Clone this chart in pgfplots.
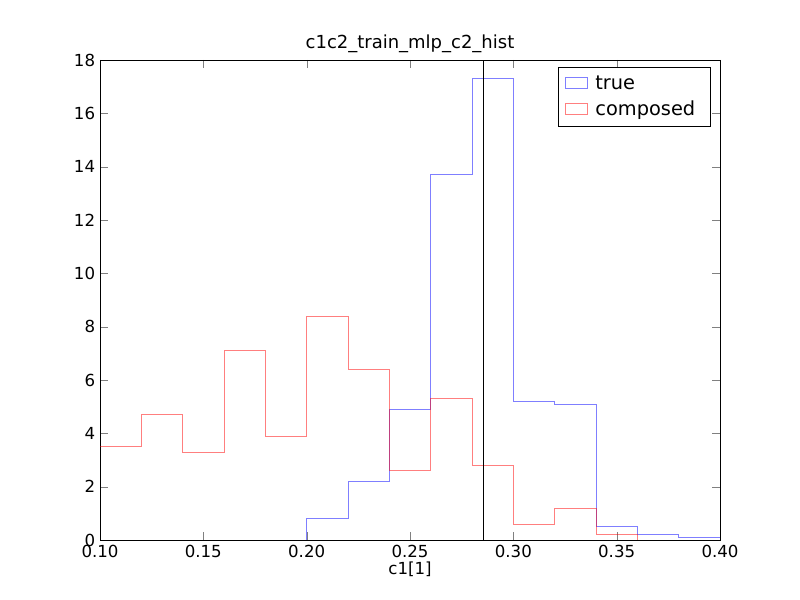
\documentclass[border=0pt]{standalone}
\usepackage{pgfplots}
\pgfplotsset{compat=1.18}
\usepackage{fontspec}
\setmainfont{DejaVu Sans}
\begin{document}
\begin{tikzpicture}
\begin{axis}[
  scale only axis, width=6.2in, height=4.8in,
  xmin=0.1, xmax=0.4, ymin=0, ymax=18,
  xtick={0.1,0.15,...,0.4}, ytick={0,2,...,18},
  xticklabel style={/pgf/number format/.cd,fixed,fixed zerofill,precision=2},
  /pgf/number format/assume math mode=true,
  tick align=inside, tick pos=both,
  major tick length=6pt,
  ticklabel style={font=\fontsize{12}{14}\selectfont},
  xlabel={c1[1]}, xlabel style={font=\fontsize{12}{14}\selectfont, yshift=4pt},
  title={c1c2\_train\_mlp\_c2\_hist}, title style={font=\fontsize{13}{15}\selectfont, yshift=-4pt},
  legend style={at={(0.985,0.985)}, anchor=north east, font=\fontsize{14}{16}\selectfont, draw=black, inner xsep=5pt, inner ysep=4pt, row sep=3pt, nodes={inner xsep=6pt}},
  legend cell align=left,
  legend image code/.code={\draw[#1] (0cm,-0.12cm) rectangle (0.55cm,0.16cm);},
]
\coordinate (sw) at (rel axis cs:0,0);
\addplot[const plot, color=blue, draw opacity=0.5] coordinates {
(0.10,0)(0.20,0.8)(0.22,2.2)(0.24,4.9)(0.26,13.7)(0.28,17.3)(0.30,5.2)(0.32,5.1)(0.34,0.5)(0.36,0.2)(0.38,0.1)(0.40,0.1)};
\addlegendentry{true}
\addplot[const plot, color=red, draw opacity=0.5] coordinates {
(0.10,3.5)(0.12,4.7)(0.14,3.3)(0.16,7.1)(0.18,3.9)(0.20,8.4)(0.22,6.4)(0.24,2.6)(0.26,5.3)(0.28,2.8)(0.30,0.6)(0.32,1.2)(0.34,0.2)(0.36,0)(0.40,0)};
\addlegendentry{composed}
\addplot[black, forget plot] coordinates {(0.2853,0)(0.2853,18)};
\end{axis}
\path[use as bounding box] ([shift={(-1in,-0.6in)}]sw) rectangle ([shift={(7in,5.4in)}]sw);
\end{tikzpicture}
\end{document}
